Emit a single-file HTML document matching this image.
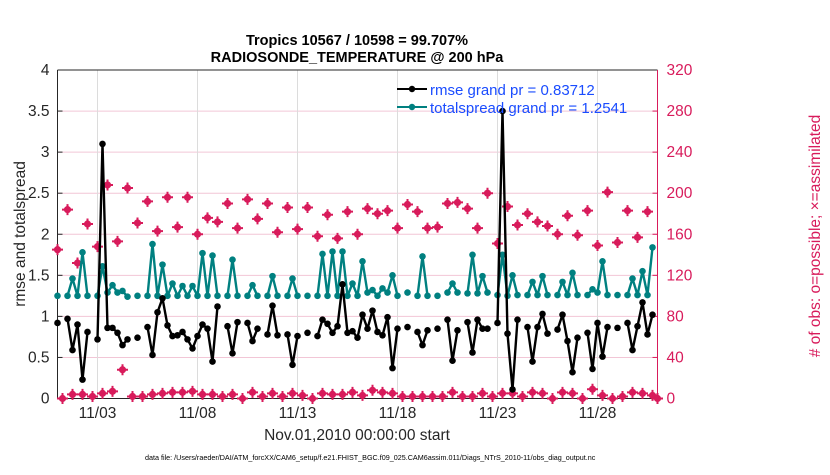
<!DOCTYPE html>
<html><head><meta charset="utf-8"><style>
body{margin:0;background:#fff;}
svg text{font-family:"Liberation Sans",Arial,sans-serif;}
</style></head><body>
<svg id="chart" width="830" height="470" viewBox="0 0 830 470" xmlns="http://www.w3.org/2000/svg">
<rect width="830" height="470" fill="#fff"/>
<text x="357" y="45" font-size="14.5" font-weight="bold" text-anchor="middle">Tropics 10567 / 10598 = 99.707%</text>
<text x="357" y="62" font-size="14.5" font-weight="bold" text-anchor="middle">RADIOSONDE_TEMPERATURE @ 200 hPa</text>
<g id="grid"></g>
<g id="axes"></g>
<g id="series"></g>
<text x="357" y="440" font-size="15.5" text-anchor="middle" fill="#262626">Nov.01,2010 00:00:00 start</text>
<text transform="translate(25,234) rotate(-90)" font-size="15.5" text-anchor="middle" fill="#262626">rmse and totalspread</text>
<text transform="translate(820,236) rotate(-90)" font-size="15.5" text-anchor="middle" fill="#d81b5b"># of obs: o=possible; ×=assimilated</text>
<text x="145" y="460" font-size="7.2" fill="#000">data file: /Users/raeder/DAI/ATM_forcXX/CAM6_setup/f.e21.FHIST_BGC.f09_025.CAM6assim.011/Diags_NTrS_2010-11/obs_diag_output.nc</text>
<g>
<line x1="397" y1="89" x2="427" y2="89" stroke="#000" stroke-width="2"/><circle cx="412" cy="89" r="3.2" fill="#000"/>
<text x="430" y="95" font-size="15" fill="#1a4cff">rmse grand pr = 0.83712</text>
<line x1="397" y1="107" x2="427" y2="107" stroke="#008080" stroke-width="2"/><circle cx="412" cy="107" r="3.2" fill="#008080"/>
<text x="430" y="113" font-size="15" fill="#1a4cff">totalspread grand pr = 1.2541</text>
</g>
</svg>
<script>
const N=NaN;
const rmse=[0.92,N,0.97,0.59,0.90,0.23,0.81,N,0.72,3.10,0.86,0.86,0.80,0.65,0.72,N,0.74,N,0.87,0.53,1.05,1.22,0.89,0.76,0.77,0.81,0.72,0.61,0.76,0.90,0.85,0.45,1.12,N,0.88,0.55,0.93,N,0.92,0.70,0.85,N,0.78,1.13,0.77,N,0.78,0.41,0.76,N,0.80,N,0.76,0.96,0.91,0.80,0.88,1.39,0.80,0.82,0.74,1.02,0.85,1.07,0.81,0.77,0.99,0.37,0.85,N,0.87,N,0.81,0.65,0.83,N,0.85,N,0.96,0.46,0.83,N,0.93,0.56,0.96,0.85,0.85,N,0.92,3.50,0.79,0.11,0.96,N,0.87,0.45,0.87,1.03,0.79,N,0.84,1.02,0.70,0.32,0.74,N,0.80,0.36,0.92,0.51,0.87,N,0.86,N,0.92,0.59,0.88,1.17,0.78,1.02];
const spread=[1.25,N,1.25,1.46,1.25,1.78,1.25,N,1.25,1.61,1.29,1.38,1.29,1.31,1.24,N,1.25,N,1.25,1.88,1.25,1.63,1.25,1.40,1.25,1.37,1.25,1.37,1.25,1.77,1.25,1.74,1.25,N,1.25,1.69,1.25,N,1.25,1.38,1.25,N,1.25,1.49,1.25,N,1.25,1.46,1.25,N,1.25,N,1.25,1.76,1.25,1.79,1.25,1.79,1.25,1.40,1.25,1.67,1.29,1.32,1.25,1.34,1.29,1.50,1.25,N,1.29,N,1.25,1.73,1.25,N,1.25,N,1.29,1.40,1.29,N,1.28,1.75,1.28,1.49,1.29,N,1.26,1.75,1.25,1.50,1.26,N,1.26,1.42,1.26,1.49,1.26,N,1.26,1.42,1.26,1.53,1.26,N,1.26,1.33,1.29,1.67,1.26,N,1.26,N,1.26,1.46,1.26,1.55,1.26,1.84];
const possibleIdx=[0,2,4,6,8,10,12,14,16,18,20,22,24,26,28,30,32,34,36,38,40,42,44,46,48,50,52,54,56,58,60,62,64,66,68,70,72,74,76,78,80,82,84,86,88,90,92,94,96,98,100,102,104,106,108,110,112,114,116,118];
const possible=[145,184,132,170,148,208,153,205,171,192,163,196,167,196,160,176,172,190,166,194,175,190,162,186,165,186,158,179,156,182,160,185,180,183,166,189,182,166,167,190,191,185,166,200,151,187,169,180,172,168,160,178,159,183,149,201,152,183,157,182];
const assimIdx=[1,3,5,7,9,11,13,15,17,19,21,23,25,27,29,31,33,35,37,39,41,43,45,47,49,51,53,55,57,59,61,63,65,67,69,71,73,75,77,79,81,83,85,87,89,91,93,95,97,99,101,103,105,107,109,111,113,115,117,119,120];
const assim=[0,4,4,2,5,7,28,2,2,4,5,6,6,7,4,4,2,4,0,6,2,5,2,5,3,0,5,4,4,6,3,8,6,5,2,2,2,2,2,6,2,2,5,2,5,5,2,6,5,0,6,5,0,9,3,0,2,6,5,3,0];
const yTicks=[0,0.5,1,1.5,2,2.5,3,3.5,4];
const yTickLabels=["0","0.5","1","1.5","2","2.5","3","3.5","4"];
const rTicks=[0,40,80,120,160,200,240,280,320];
const xTickDays=[3,8,13,18,23,28];
const xTickLabels=["11/03","11/08","11/13","11/18","11/23","11/28"];

const L=57.5,R=657.5,T=70,B=398.5;
const xi=i=>L+(R-L)*i/120;
const xd=d=>xi((d-1)*4);
const yl=v=>B-(B-T)*v/4;
const yr=v=>B-(B-T)*v/320;
const NS="http://www.w3.org/2000/svg";
function mk(tag,attrs,parent){const e=document.createElementNS(NS,tag);for(const k in attrs)e.setAttribute(k,attrs[k]);parent.appendChild(e);return e;}
const grid=document.getElementById('grid'),axes=document.getElementById('axes'),ser=document.getElementById('series');
yTicks.forEach((v,k)=>{
  const g=mk('line',{x1:L,x2:R,y1:yl(v),y2:yl(v),stroke:'#f2c6d6','stroke-width':1},grid);
  
  
  const t=mk('text',{x:L-8,y:yl(v)+5,'font-size':15.5,'text-anchor':'end',fill:'#262626'},axes);
  t.textContent=yTickLabels[k];
  
  
  mk('line',{x1:L,x2:L+5,y1:yl(v),y2:yl(v),stroke:'#262626'},axes);
});
rTicks.forEach(v=>{
  const t=mk('text',{x:R+9,y:yr(v)+5,'font-size':15.5,fill:'#d81b5b'},axes);
  t.textContent=v;
  
  
  mk('line',{x1:R-5,x2:R,y1:yr(v),y2:yr(v),stroke:'#d81b5b'},axes);
});
xTickDays.forEach((d,k)=>{
  const g=mk('line',{x1:xd(d),x2:xd(d),y1:T,y2:B,stroke:'#dcdcdc','stroke-width':1},grid);
  
  
  const t=mk('text',{x:xd(d),y:418,'font-size':15.5,'text-anchor':'middle',fill:'#262626'},axes);
  t.textContent=xTickLabels[k];
  
  
});
mk('line',{x1:L,x2:R,y1:T,y2:T,stroke:'#262626'},axes);
mk('line',{x1:L,x2:R,y1:B,y2:B,stroke:'#262626'},axes);
mk('line',{x1:L,x2:L,y1:T,y2:B,stroke:'#262626'},axes);
mk('line',{x1:R,x2:R,y1:T,y2:B,stroke:'#d81b5b'},axes);

function star(x,y,name){
  const g=mk('g',{},ser);
  
  
  mk('circle',{cx:x,cy:y,r:3.6,fill:'#d81b5b'},g);
  mk('path',{d:`M${x-5.5},${y}H${x+5.5}M${x},${y-5.5}V${y+5.5}`,stroke:'#d81b5b','stroke-width':2},g);
}
possible.forEach((v,k)=>star(xi(possibleIdx[k]),yr(v),'possible-obs-marker'));
assim.forEach((v,k)=>star(xi(assimIdx[k]),yr(v),'assimilated-obs-marker'));

function line(arr,color,name){
  let d='',pen=false;
  arr.forEach((v,i)=>{if(isNaN(v)){pen=false;return;}d+=(pen?'L':'M')+xi(i).toFixed(2)+','+yl(v).toFixed(2);pen=true;});
  const p=mk('path',{d:d,fill:'none',stroke:color,'stroke-width':2.4,'stroke-linejoin':'round'},ser);
  
  
  arr.forEach((v,i)=>{if(isNaN(v))return;
    const c=mk('circle',{cx:xi(i),cy:yl(v),r:3.3,fill:color},ser);
    
    
  });
}
line(spread,'#008080','totalspread');
line(rmse,'#000000','rmse');
</script>
</body></html>
